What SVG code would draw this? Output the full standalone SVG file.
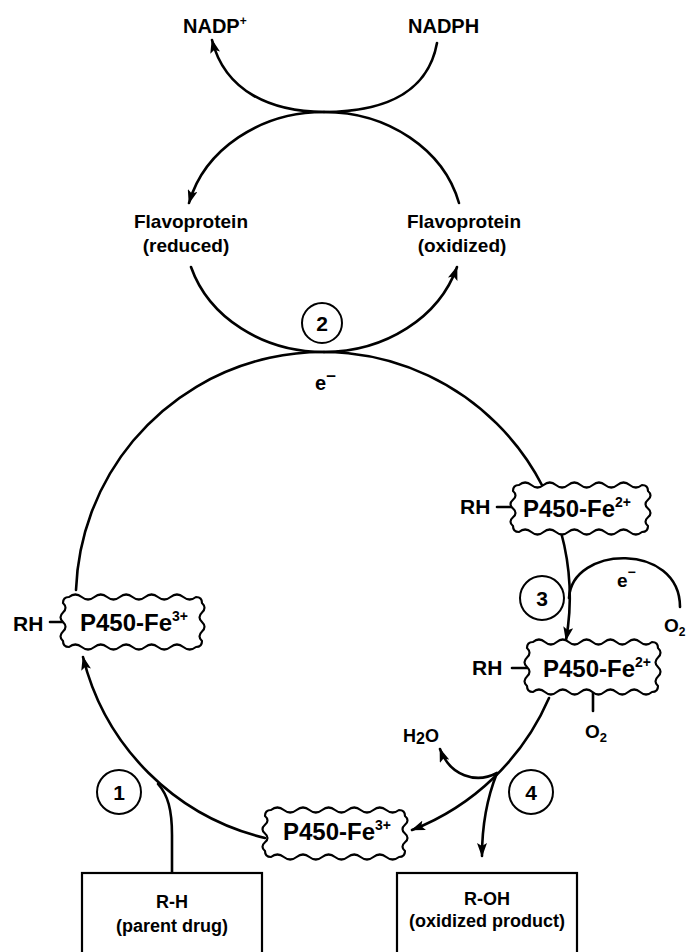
<svg xmlns="http://www.w3.org/2000/svg" width="689" height="952" viewBox="0 0 689 952">
<style>
.t{font-family:"Liberation Sans",Arial,sans-serif;font-weight:bold;fill:#000}
.ln{fill:none;stroke:#000;stroke-width:2.6;stroke-linecap:round}
.arr{marker-end:url(#ah)}
.box{fill:#fff;stroke:#000;stroke-width:2.2}
.wav{fill:#fff;stroke:#000;stroke-width:2.2;stroke-linejoin:round}
.num{fill:#fff;stroke:#000;stroke-width:2}
</style>
<defs>
<marker id="ah" viewBox="0 0 14 10" markerWidth="14" markerHeight="10" refX="13" refY="5" orient="auto" markerUnits="userSpaceOnUse">
<path d="M0,0 L14,5 L0,10 L3,5 Z" fill="#000"/>
</marker>
</defs>
<rect width="689" height="952" fill="#fff"/>

<g id="connectors">
<path class="ln arr" d="M437,43 C427,98 375,112 324,112 C272,112 225,92 212,40"/>
<path class="ln arr" d="M324,112 A139,120 0 0 0 189,203"/>
<path class="ln" d="M191,267 A139,120 0 0 0 324,352"/>
<path class="ln arr" d="M324,352 A139,120 0 0 0 457,267"/>
<path class="ln" d="M459,203 A139,120 0 0 0 324,112"/>
<path class="ln" d="M76,590 A247,247 0 0 1 543,487"/>
<path class="ln arr" d="M561,532 A247,247 0 0 1 566,640"/>
<path class="ln arr" d="M549,698 A247,247 0 0 1 412,830"/>
<path class="ln arr" d="M265,838 A247,247 0 0 1 83,657"/>
<path class="ln" d="M172,873 L172,835 C172,810 168,795 158,784"/>
<path class="ln" d="M569,598 C572,545 680,542 680,607"/>
<path class="ln arr" d="M497,773 C476,784 450,776 440,749"/>
<path class="ln arr" d="M497,773 C487,798 482,825 482,856"/>
<path class="ln" d="M50,622 L63,622"/>
<path class="ln" d="M497,507 L513,507"/>
<path class="ln" d="M512,668 L527,668"/>
<path class="ln" d="M593,692 L593,711"/>
</g>

<g id="nadp-labels">
<text class="t" x="183" y="33" font-size="20">NADP<tspan font-size="12" dy="-8">+</tspan></text>
<text class="t" x="408" y="33" font-size="20">NADPH</text>
</g>

<g id="flavo-reduced">
<text class="t" x="191" y="228" font-size="19" text-anchor="middle">Flavoprotein</text>
<text class="t" x="186" y="252" font-size="19" text-anchor="middle">(reduced)</text>
</g>
<g id="flavo-oxidized">
<text class="t" x="464" y="228" font-size="19" text-anchor="middle">Flavoprotein</text>
<text class="t" x="462" y="252" font-size="19" text-anchor="middle">(oxidized)</text>
</g>

<g id="step2">
<circle class="num" cx="322" cy="323" r="20"/>
<text class="t" x="322" y="331" font-size="21" text-anchor="middle">2</text>
<text class="t" x="315" y="390" font-size="20">e<tspan font-size="17" dy="-8">−</tspan></text>
</g>

<g id="p450-fe3-left">
<path class="wav" d="M63,603 Q63,597 69,597 Q75.35,592 81.7,597 T94.4,597 T107.1,597 T119.8,597 T132.5,597 T145.2,597 T157.9,597 T170.6,597 T183.3,597 T196,597 Q202,597 202,603 Q207,607.75 202,612.5 T202,622 T202,631.5 T202,641 Q202,647 196,647 Q189.65,652 183.3,647 T170.6,647 T157.9,647 T145.2,647 T132.5,647 T119.8,647 T107.1,647 T94.4,647 T81.7,647 T69,647 Q63,647 63,641 Q58,636.25 63,631.5 T63,622 T63,612.5 T63,603 Z"/>
<text class="t" x="80" y="631" font-size="24">P450-Fe<tspan font-size="14" dy="-10">3+</tspan></text>
<text class="t" x="13" y="631" font-size="21">RH</text>
</g>

<g id="p450-fe2-upper">
<path class="wav" d="M513,491 Q513,485 519,485 Q525.15,480 531.3,485 T543.6,485 T555.9,485 T568.2,485 T580.5,485 T592.8,485 T605.1,485 T617.4,485 T629.7,485 T642,485 Q648,485 648,491 Q653,495.375 648,499.75 T648,508.5 T648,517.25 T648,526 Q648,532 642,532 Q635.85,537 629.7,532 T617.4,532 T605.1,532 T592.8,532 T580.5,532 T568.2,532 T555.9,532 T543.6,532 T531.3,532 T519,532 Q513,532 513,526 Q508,521.625 513,517.25 T513,508.5 T513,499.75 T513,491 Z"/>
<text class="t" x="523" y="517" font-size="24">P450-Fe<tspan font-size="14" dy="-10">2+</tspan></text>
<text class="t" x="460" y="514" font-size="21">RH</text>
</g>

<g id="step3">
<circle class="num" cx="542" cy="598" r="22"/>
<text class="t" x="542" y="606" font-size="21" text-anchor="middle">3</text>
<text class="t" x="617" y="587" font-size="19">e<tspan font-size="14" dy="-10">−</tspan></text>
<text class="t" x="664" y="632" font-size="19">O<tspan font-size="12" dy="4">2</tspan></text>
</g>

<g id="p450-fe2-o2">
<path class="wav" d="M527,648 Q527,642 533,642 Q538.95,637 544.9,642 T556.8,642 T568.7,642 T580.6,642 T592.5,642 T604.4,642 T616.3,642 T628.2,642 T640.1,642 T652,642 Q658,642 658,648 Q663,652.75 658,657.5 T658,667 T658,676.5 T658,686 Q658,692 652,692 Q646.05,697 640.1,692 T628.2,692 T616.3,692 T604.4,692 T592.5,692 T580.6,692 T568.7,692 T556.8,692 T544.9,692 T533,692 Q527,692 527,686 Q522,681.25 527,676.5 T527,667 T527,657.5 T527,648 Z"/>
<text class="t" x="543" y="677" font-size="24">P450-Fe<tspan font-size="14" dy="-10">2+</tspan></text>
<text class="t" x="472" y="675" font-size="21">RH</text>
<text class="t" x="585" y="738" font-size="19">O<tspan font-size="13" dy="4">2</tspan></text>
</g>

<g id="h2o">
<text class="t" x="403" y="742" font-size="18">H<tspan font-size="16" dy="2">2</tspan><tspan dy="-2">O</tspan></text>
</g>

<g id="step4">
<circle class="num" cx="531" cy="792" r="22"/>
<text class="t" x="531" y="800" font-size="21" text-anchor="middle">4</text>
</g>

<g id="step1">
<circle class="num" cx="119" cy="792" r="22"/>
<text class="t" x="119" y="800" font-size="21" text-anchor="middle">1</text>
</g>

<g id="p450-fe3-bottom">
<path class="wav" d="M265,816 Q265,810 271,810 Q277.4,805 283.8,810 T296.6,810 T309.4,810 T322.2,810 T335,810 T347.8,810 T360.6,810 T373.4,810 T386.2,810 T399,810 Q405,810 405,816 Q410,820.375 405,824.75 T405,833.5 T405,842.25 T405,851 Q405,857 399,857 Q392.6,862 386.2,857 T373.4,857 T360.6,857 T347.8,857 T335,857 T322.2,857 T309.4,857 T296.6,857 T283.8,857 T271,857 Q265,857 265,851 Q260,846.625 265,842.25 T265,833.5 T265,824.75 T265,816 Z"/>
<text class="t" x="283" y="840" font-size="24">P450-Fe<tspan font-size="14" dy="-10">3+</tspan></text>
</g>

<g id="rh-parent">
<rect class="box" x="82" y="873" width="180" height="90"/>
<text class="t" x="172" y="908" font-size="18" text-anchor="middle">R-H</text>
<text class="t" x="172" y="932" font-size="18" text-anchor="middle">(parent drug)</text>
</g>

<g id="roh-product">
<rect class="box" x="397" y="873" width="180" height="90"/>
<text class="t" x="487" y="905" font-size="18" text-anchor="middle">R-OH</text>
<text class="t" x="487" y="927" font-size="18" text-anchor="middle">(oxidized product)</text>
</g>
</svg>
